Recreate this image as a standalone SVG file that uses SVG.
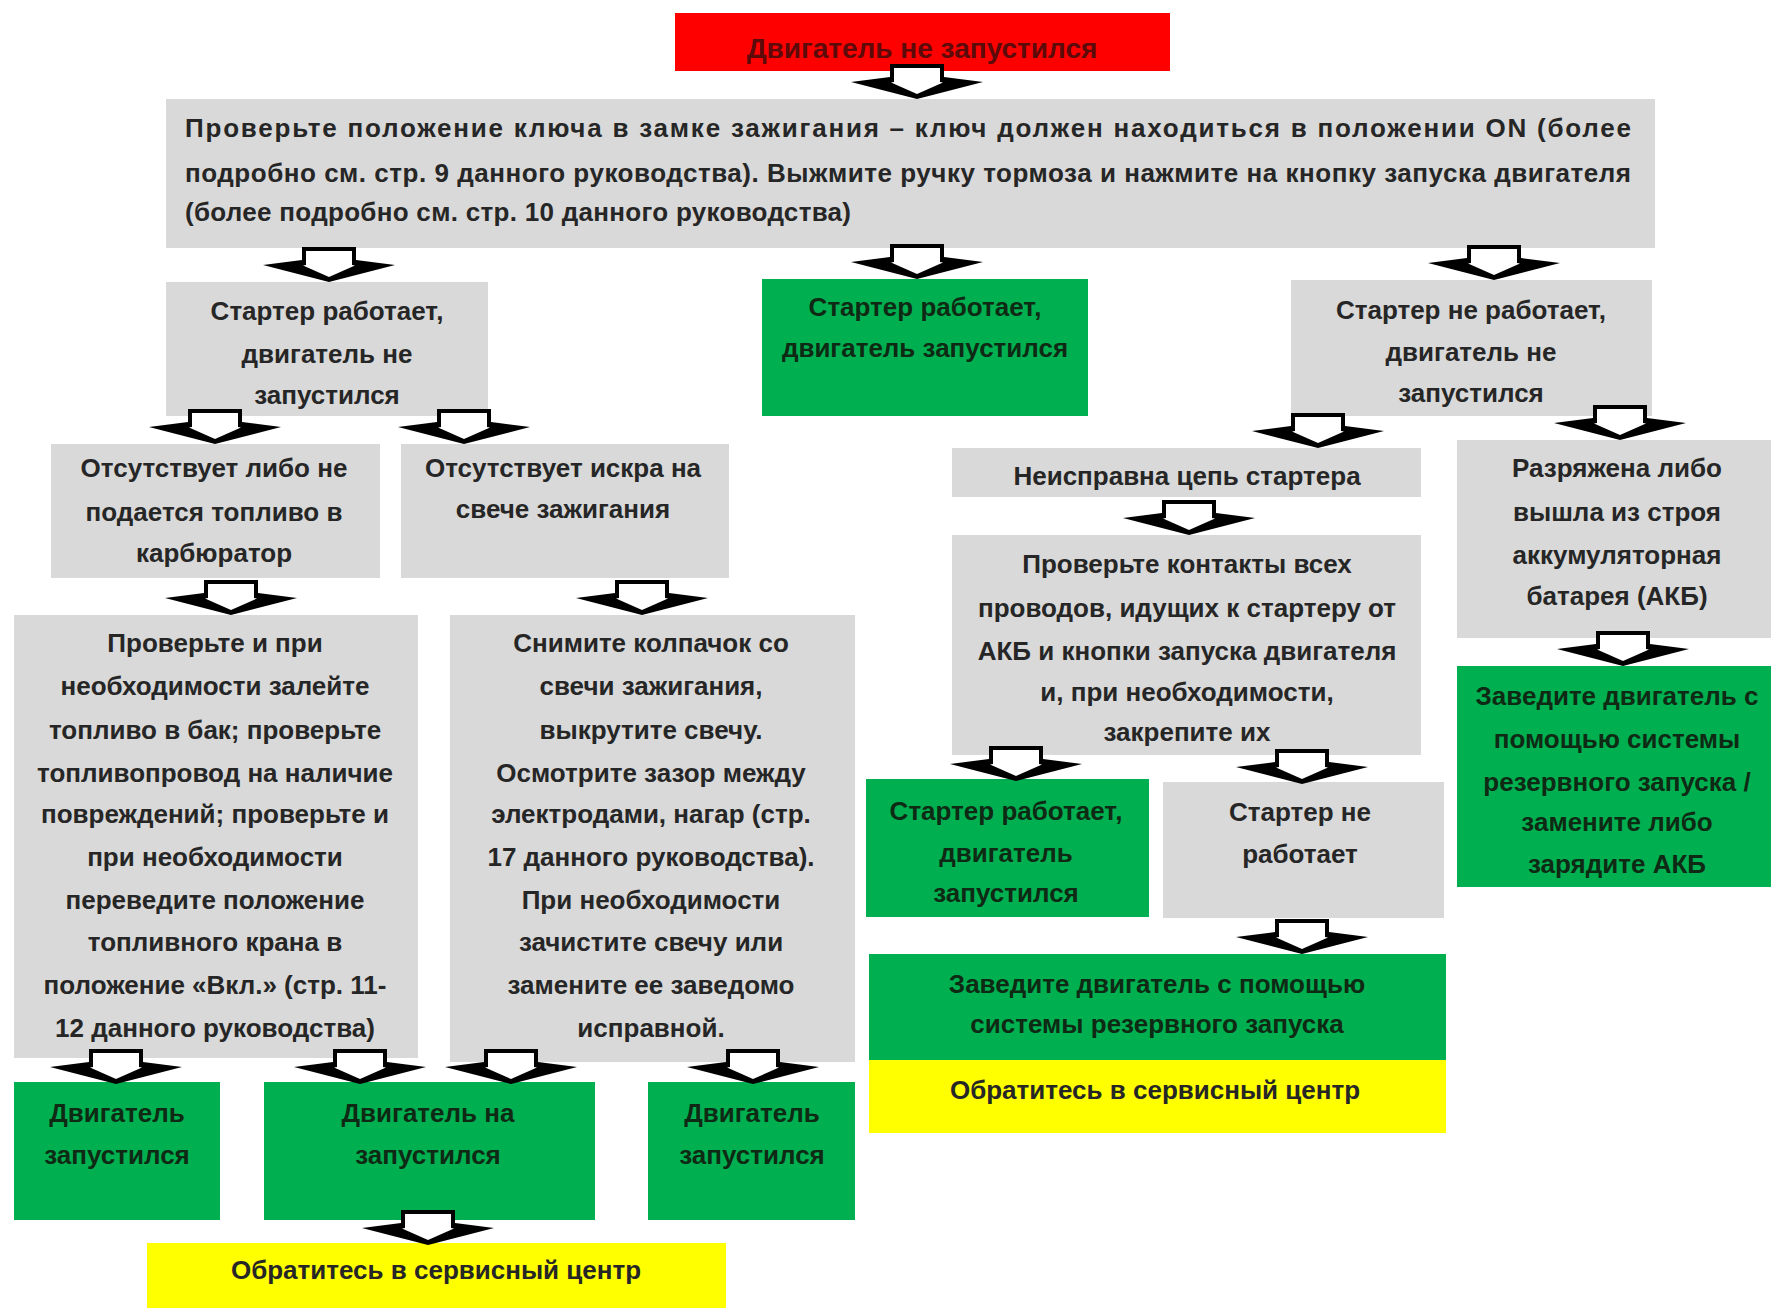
<svg xmlns="http://www.w3.org/2000/svg" xmlns:xlink="http://www.w3.org/1999/xlink" width="1771" height="1308" viewBox="0 0 1771 1308">
<style>
.gray{fill:#d9d9d9}
.green{fill:#00b050}
.red{fill:#ff0000}
.yellow{fill:#ffff00}
text{font-family:"Liberation Sans",Arial,sans-serif;font-weight:bold;font-size:26px;fill:#262626;text-anchor:middle}
.on-green text{fill:#0f2a14}
.on-red text{fill:#5c0a0a;font-size:28px}
text.j{text-anchor:start}
.ab{fill:#000000}
.aw{fill:#ffffff}
</style>
<defs>
<g id="arr">
<path class="ab" d="M -27 -35 H 27 V -22 L 66 -17 L 0 0 L -66 -17 L -27 -22 Z"/>
<path class="aw" d="M -23 -31 H 23 V -17 L 26 -16.5 L 0 -5 L -26 -16.5 L -23 -17 Z"/>
</g>
</defs>
<rect width="1771" height="1308" fill="#ffffff"/>

<g id="n1" class="on-red"><rect class="red" x="675" y="13" width="495" height="58"/><text x="922" y="58">Двигатель не запустился</text></g>

<g id="n2"><rect class="gray" x="166" y="99" width="1489" height="149"/>
<text class="j" x="185" y="137" textLength="1446" lengthAdjust="spacing">Проверьте положение ключа в замке зажигания – ключ должен находиться в положении ON (более</text>
<text class="j" x="185" y="182" textLength="1446" lengthAdjust="spacing">подробно см. стр. 9 данного руководства). Выжмите ручку тормоза и нажмите на кнопку запуска двигателя</text>
<text class="j" x="185" y="221" textLength="666" lengthAdjust="spacing">(более подробно см. стр. 10 данного руководства)</text></g>

<g id="n3"><rect class="gray" x="166" y="282" width="322" height="134"/>
<text x="327" y="320">Стартер работает,</text><text x="327" y="363">двигатель не</text><text x="327" y="404">запустился</text></g>

<g id="n4" class="on-green"><rect class="green" x="762" y="279" width="326" height="137"/>
<text x="925" y="316">Стартер работает,</text><text x="925" y="357">двигатель запустился</text></g>

<g id="n5"><rect class="gray" x="1291" y="280" width="361" height="136"/>
<text x="1471" y="319">Стартер не работает,</text><text x="1471" y="361">двигатель не</text><text x="1471" y="402">запустился</text></g>

<g id="n6"><rect class="gray" x="51" y="444" width="329" height="134"/>
<text x="214" y="477">Отсутствует либо не</text><text x="214" y="521">подается топливо в</text><text x="214" y="562">карбюратор</text></g>

<g id="n7"><rect class="gray" x="401" y="444" width="328" height="134"/>
<text x="563" y="477">Отсутствует искра на</text><text x="563" y="518">свече зажигания</text></g>

<g id="n8"><rect class="gray" x="952" y="448" width="469" height="49"/>
<text x="1187" y="485">Неисправна цепь стартера</text></g>

<g id="n9"><rect class="gray" x="952" y="535" width="469" height="220"/>
<text x="1187" y="573">Проверьте контакты всех</text><text x="1187" y="617">проводов, идущих к стартеру от</text><text x="1187" y="660">АКБ и кнопки запуска двигателя</text><text x="1187" y="701">и, при необходимости,</text><text x="1187" y="741">закрепите их</text></g>

<g id="n10"><rect class="gray" x="1457" y="440" width="314" height="198"/>
<text x="1617" y="477">Разряжена либо</text><text x="1617" y="521">вышла из строя</text><text x="1617" y="564">аккумуляторная</text><text x="1617" y="605">батарея (АКБ)</text></g>

<g id="n11" class="on-green"><rect class="green" x="1457" y="666" width="314" height="221"/>
<text x="1617" y="705">Заведите двигатель с</text><text x="1617" y="748">помощью системы</text><text x="1617" y="791">резервного запуска /</text><text x="1617" y="831">замените либо</text><text x="1617" y="873">зарядите АКБ</text></g>

<g id="n12" class="on-green"><rect class="green" x="866" y="779" width="283" height="138"/>
<text x="1006" y="820">Стартер работает,</text><text x="1006" y="862">двигатель</text><text x="1006" y="902">запустился</text></g>

<g id="n13"><rect class="gray" x="1163" y="782" width="281" height="136"/>
<text x="1300" y="821">Стартер не</text><text x="1300" y="863">работает</text></g>

<g id="n14" class="on-green"><rect class="green" x="869" y="954" width="577" height="106"/>
<text x="1157" y="993">Заведите двигатель с помощью</text><text x="1157" y="1033">системы резервного запуска</text></g>

<g id="n15"><rect class="yellow" x="869" y="1060" width="577" height="73"/>
<text x="1155" y="1099">Обратитесь в сервисный центр</text></g>

<g id="n16"><rect class="gray" x="14" y="615" width="404" height="443"/>
<text x="215" y="652">Проверьте и при</text>
<text x="215" y="695">необходимости залейте</text>
<text x="215" y="739">топливо в бак; проверьте</text>
<text x="215" y="782">топливопровод на наличие</text>
<text x="215" y="823">повреждений; проверьте и</text>
<text x="215" y="866">при необходимости</text>
<text x="215" y="909">переведите положение</text>
<text x="215" y="951">топливного крана в</text>
<text x="215" y="994">положение «Вкл.» (стр. 11-</text>
<text x="215" y="1037">12 данного руководства)</text></g>

<g id="n17"><rect class="gray" x="450" y="615" width="405" height="447"/>
<text x="651" y="652">Снимите колпачок со</text>
<text x="651" y="695">свечи зажигания,</text>
<text x="651" y="739">выкрутите свечу.</text>
<text x="651" y="782">Осмотрите зазор между</text>
<text x="651" y="823">электродами, нагар (стр.</text>
<text x="651" y="866">17 данного руководства).</text>
<text x="651" y="909">При необходимости</text>
<text x="651" y="951">зачистите свечу или</text>
<text x="651" y="994">замените ее заведомо</text>
<text x="651" y="1037">исправной.</text></g>

<g id="n18" class="on-green"><rect class="green" x="14" y="1082" width="206" height="138"/>
<text x="117" y="1122">Двигатель</text><text x="117" y="1164">запустился</text></g>

<g id="n19" class="on-green"><rect class="green" x="264" y="1082" width="331" height="138"/>
<text x="428" y="1122">Двигатель на</text><text x="428" y="1164">запустился</text></g>

<g id="n20" class="on-green"><rect class="green" x="648" y="1082" width="207" height="138"/>
<text x="752" y="1122">Двигатель</text><text x="752" y="1164">запустился</text></g>

<g id="n21"><rect class="yellow" x="147" y="1243" width="579" height="65"/>
<text x="436" y="1279">Обратитесь в сервисный центр</text></g>

<g id="connectors">
<use xlink:href="#arr" x="917" y="99"/>
<use xlink:href="#arr" x="329" y="282"/>
<use xlink:href="#arr" x="917" y="279"/>
<use xlink:href="#arr" x="1494" y="280"/>
<use xlink:href="#arr" x="215" y="444"/>
<use xlink:href="#arr" x="464" y="444"/>
<use xlink:href="#arr" x="1318" y="448"/>
<use xlink:href="#arr" x="1620" y="440"/>
<use xlink:href="#arr" x="231" y="615"/>
<use xlink:href="#arr" x="642" y="615"/>
<use xlink:href="#arr" x="1189" y="535"/>
<use xlink:href="#arr" x="1623" y="666"/>
<use xlink:href="#arr" x="1016" y="781"/>
<use xlink:href="#arr" x="1302" y="784"/>
<use xlink:href="#arr" x="1302" y="954"/>
<use xlink:href="#arr" x="116" y="1084"/>
<use xlink:href="#arr" x="360" y="1084"/>
<use xlink:href="#arr" x="511" y="1084"/>
<use xlink:href="#arr" x="753" y="1084"/>
<use xlink:href="#arr" x="428" y="1245"/>
</g>
</svg>
